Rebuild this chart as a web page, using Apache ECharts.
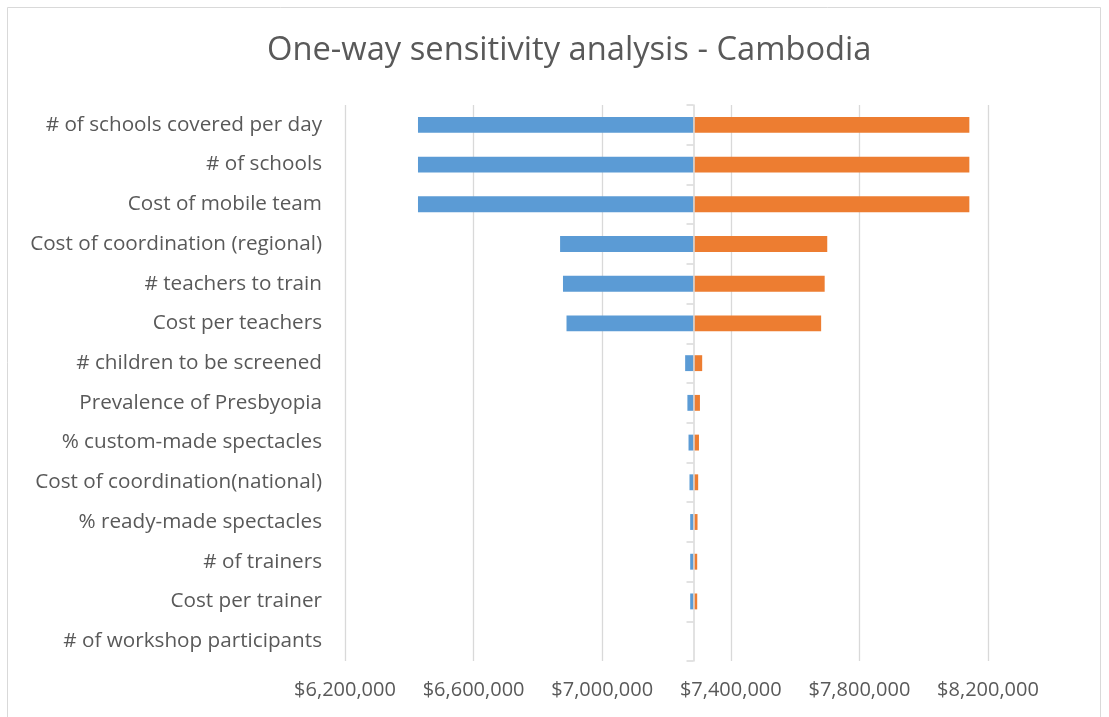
<!DOCTYPE html>
<html>
<head>
<meta charset="utf-8">
<script src="https://cdn.jsdelivr.net/npm/echarts@6/dist/echarts.min.js"></script>
<style>
html,body{margin:0;padding:0;background:#fff;}
#chart{width:1109px;height:717px;}
</style>
</head>
<body>
<div id="chart"></div>
<script>
// ---- data ----
const titleText = "One-way sensitivity analysis - Cambodia";
const categories = [
  "# of schools covered per day",
  "# of schools",
  "Cost of mobile team",
  "Cost of coordination (regional)",
  "# teachers to train",
  "Cost per teachers",
  "# children to be screened",
  "Prevalence of Presbyopia",
  "% custom-made spectacles",
  "Cost of coordination(national)",
  "% ready-made spectacles",
  "# of trainers",
  "Cost per trainer",
  "# of workshop participants"
];
const baseValue = 7284000;
const lowValues = [6427000, 6427000, 6427000, 6869000, 6878000, 6889000, 7258000, 7265000, 7268500, 7271500, 7273700, 7273700, 7273700, 7284000];
const highValues = [8142000, 8142000, 8142000, 7700000, 7692000, 7681000, 7311000, 7304000, 7301000, 7298500, 7296500, 7295500, 7295500, 7284000];
const axisMin = 6200000, axisMax = 8200000, axisStep = 400000;

// ---- layout ----
const gridLeft = 345, gridRight = 121, gridTop = 105, gridBottom = 56;
const gridWidth = 1109 - gridLeft - gridRight;
const centerOffset = -(baseValue - axisMin) / (axisMax - axisMin) * gridWidth;

const fmt = v => '$' + Math.round(v).toString().replace(/\B(?=(\d{3})+(?!\d))/g, ',');
const FONT = 'Open Sans';

const chart = echarts.init(document.getElementById('chart'), null, {renderer: 'canvas'});
chart.setOption({
  backgroundColor: '#ffffff',
  animation: false,
  title: {
    text: titleText,
    left: 262,
    top: 29,
    textStyle: {fontFamily: FONT, fontSize: 32.7, fontWeight: 'normal', color: '#595959'}
  },
  graphic: [{
    type: 'rect',
    shape: {x: 7.5, y: 7.5, width: 1093, height: 720},
    style: {fill: 'none', stroke: '#d9d9d9', lineWidth: 1},
    silent: true, z: -1
  }],
  grid: {left: gridLeft, right: gridRight, top: gridTop, bottom: gridBottom},
  xAxis: {
    type: 'value',
    min: axisMin, max: axisMax, interval: axisStep,
    axisLine: {show: false},
    axisTick: {show: false},
    splitLine: {show: true, lineStyle: {color: '#d9d9d9', width: 1.3}},
    axisLabel: {formatter: fmt, fontFamily: FONT, fontSize: 20, color: '#595959', margin: 19}
  },
  yAxis: [{
    type: 'category',
    data: categories,
    inverse: true,
    position: 'left',
    axisLine: {show: false},
    axisTick: {show: false},
    axisLabel: {fontFamily: FONT, fontSize: 20.7, color: '#595959', margin: 23}
  }, {
    type: 'category',
    data: categories,
    inverse: true,
    position: 'left',
    offset: centerOffset,
    axisLine: {show: true, lineStyle: {color: '#d9d9d9', width: 1.5}},
    axisTick: {show: true, length: 7, lineStyle: {color: '#d9d9d9', width: 1.5}},
    axisLabel: {show: false},
    z: 5
  }],
  series: [{
    name: 'offset',
    type: 'bar',
    stack: 'tornado',
    data: lowValues,
    itemStyle: {color: 'rgba(0,0,0,0)'},
    barWidth: '40%',
    silent: true
  }, {
    name: 'Low',
    type: 'bar',
    stack: 'tornado',
    data: lowValues.map(v => baseValue - v),
    itemStyle: {color: '#5B9BD5'},
    barWidth: '40%'
  }, {
    name: 'High',
    type: 'bar',
    stack: 'tornado',
    data: highValues.map(v => v - baseValue),
    itemStyle: {color: '#ED7D31'},
    barWidth: '40%'
  }]
});
</script>
</body>
</html>
